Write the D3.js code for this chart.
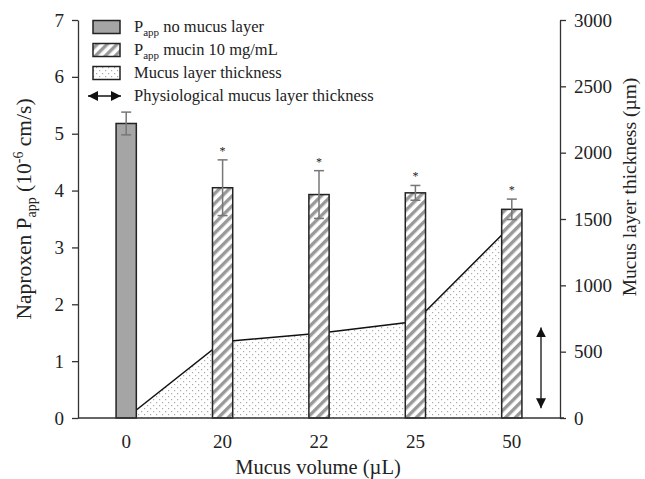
<!DOCTYPE html>
<meta charset="utf-8">
<html>
<script src="https://d3js.org/d3.v7.min.js"></script>
<style>
  body { margin: 0; background: #fff; }
  text { font-family: "Liberation Serif", "Times New Roman", serif; fill: #222; }
</style>
<div id="chart"></div>
<script>

// data
var volumes = ["0", "20", "22", "25", "50"];
var pappMean = [5.18, 4.05, 3.93, 3.96, 3.67];
var pappErr = [0.20, 0.49, 0.42, 0.13, 0.18];
var barType = ["none", "mucin", "mucin", "mucin", "mucin"];
var signif = [false, true, true, true, true];
var thickness = [0, 575, 638, 728, 1455];
var physioRange = [73, 683];
var leftTicks = [0, 1, 2, 3, 4, 5, 6, 7];
var rightTicks = [0, 500, 1000, 1500, 2000, 2500, 3000];

var width = 645, height = 479;
var pLeft = 78, pRight = 560, pTop = 20, pBottom = 418;

var svg = d3.select("#chart").append("svg")
  .attr("width", width)
  .attr("height", height);

var defs = svg.append("defs");

// diagonal hatch for the mucin bars
var hatch = defs.append("pattern")
  .attr("id", "hatch")
  .attr("patternUnits", "userSpaceOnUse")
  .attr("width", 7).attr("height", 7)
  .attr("patternTransform", "rotate(45)");
hatch.append("rect").attr("width", 7).attr("height", 7).attr("fill", "#fff");
hatch.append("rect").attr("x", 0).attr("width", 3.4).attr("height", 7).attr("fill", "#999");

// dotted fill for the thickness area
var dots = defs.append("pattern")
  .attr("id", "dots")
  .attr("patternUnits", "userSpaceOnUse")
  .attr("width", 6).attr("height", 6);
dots.append("rect").attr("width", 6).attr("height", 6).attr("fill", "#fff");
dots.append("rect").attr("x", 0).attr("y", 0).attr("width", 1.2).attr("height", 1.2).attr("fill", "#aaa");
dots.append("rect").attr("x", 3).attr("y", 3).attr("width", 1.2).attr("height", 1.2).attr("fill", "#aaa");

var x = d3.scaleBand().domain(volumes).range([pLeft, pRight]);
var y = d3.scaleLinear().domain([0, 7]).range([pBottom, pTop]);
var y2 = d3.scaleLinear().domain([0, 3000]).range([pBottom, pTop]);
var cx = function(c) { return x(c) + x.bandwidth() / 2; };
var bw = x.bandwidth() * 0.21;

// mucus layer thickness area (secondary axis)
var pts = volumes.map(function(v, i) { return [v, thickness[i]]; });
svg.append("path")
  .datum(pts)
  .attr("fill", "url(#dots)")
  .attr("d", d3.area().x(function(d) { return cx(d[0]); }).y0(y2(0)).y1(function(d) { return y2(d[1]); }));
svg.append("path")
  .datum(pts)
  .attr("fill", "none")
  .attr("stroke", "#111")
  .attr("stroke-width", 1.5)
  .attr("d", d3.line().x(function(d) { return cx(d[0]); }).y(function(d) { return y2(d[1]); }));

// bars
svg.selectAll("rect.bar")
  .data(volumes)
  .enter().append("rect")
  .attr("class", "bar")
  .attr("x", function(d) { return cx(d) - bw / 2; })
  .attr("y", function(d, i) { return y(pappMean[i]); })
  .attr("width", bw)
  .attr("height", function(d, i) { return y(0) - y(pappMean[i]); })
  .attr("fill", function(d, i) { return barType[i] == "none" ? "#a5a5a5" : "url(#hatch)"; })
  .attr("stroke", "#222")
  .attr("stroke-width", 1.5);

// error bars
var eb = svg.selectAll("g.err")
  .data(volumes)
  .enter().append("g")
  .attr("class", "err")
  .attr("stroke", "#777")
  .attr("stroke-width", 1.5);
eb.append("line")
  .attr("x1", cx).attr("x2", cx)
  .attr("y1", function(d, i) { return y(pappMean[i] + pappErr[i]); })
  .attr("y2", function(d, i) { return y(pappMean[i] - pappErr[i]); });
eb.append("line")
  .attr("x1", function(d) { return cx(d) - 5; }).attr("x2", function(d) { return cx(d) + 5; })
  .attr("y1", function(d, i) { return y(pappMean[i] + pappErr[i]); })
  .attr("y2", function(d, i) { return y(pappMean[i] + pappErr[i]); });
eb.append("line")
  .attr("x1", function(d) { return cx(d) - 5; }).attr("x2", function(d) { return cx(d) + 5; })
  .attr("y1", function(d, i) { return y(pappMean[i] - pappErr[i]); })
  .attr("y2", function(d, i) { return y(pappMean[i] - pappErr[i]); });

// asterisks
svg.selectAll("text.star")
  .data(volumes.filter(function(d, i) { return signif[i]; }))
  .enter().append("text")
  .attr("class", "star")
  .attr("x", cx)
  .attr("y", function(d) { var i = volumes.indexOf(d); return y(pappMean[i] + pappErr[i]) - 5; })
  .attr("text-anchor", "middle")
  .style("font-size", "12px")
  .text("*");

// physiological thickness arrow
var ax = 541;
defs.append("marker")
  .attr("id", "tri")
  .attr("viewBox", "0 0 10 10")
  .attr("refX", 10).attr("refY", 5)
  .attr("markerWidth", 10).attr("markerHeight", 10)
  .attr("markerUnits", "userSpaceOnUse")
  .attr("orient", "auto-start-reverse")
  .append("path").attr("d", "M0,0 L10,5 L0,10 Z").attr("fill", "#111");
svg.append("line")
  .attr("x1", ax).attr("x2", ax)
  .attr("y1", y2(physioRange[1])).attr("y2", y2(physioRange[0]))
  .attr("stroke", "#111").attr("stroke-width", 1.3)
  .attr("marker-start", "url(#tri)")
  .attr("marker-end", "url(#tri)");

// axes
var gl = svg.append("g")
  .attr("transform", "translate(" + pLeft + ",0)")
  .call(d3.axisLeft(y).tickValues(leftTicks).tickFormat(d3.format("d")).tickSize(6).tickSizeOuter(0).tickPadding(8));
var gr = svg.append("g")
  .attr("transform", "translate(" + pRight + ",0)")
  .call(d3.axisRight(y2).tickValues(rightTicks).tickFormat(d3.format("d")).tickSize(6).tickSizeOuter(0).tickPadding(8));
[gl, gr].forEach(function(g) {
  g.select(".domain").attr("stroke", "#333").attr("stroke-width", 1.3);
  g.selectAll(".tick line").attr("stroke", "#333").attr("stroke-width", 1.3);
  g.selectAll(".tick text").style("font-size", "19px").style("font-family", "Liberation Serif").attr("fill", "#222");
});
svg.append("line")
  .attr("x1", pLeft).attr("x2", pRight + 4)
  .attr("y1", pBottom).attr("y2", pBottom)
  .attr("stroke", "#333").attr("stroke-width", 1.5);

svg.selectAll("text.xlab")
  .data(volumes)
  .enter().append("text")
  .attr("class", "xlab")
  .attr("x", cx)
  .attr("y", 448)
  .attr("text-anchor", "middle")
  .style("font-size", "19px")
  .text(function(d) { return d; });

// axis titles
svg.append("text")
  .attr("x", 318).attr("y", 474)
  .attr("text-anchor", "middle")
  .style("font-size", "20.5px")
  .text("Mucus volume (\u00b5L)");

var lt = svg.append("text")
  .attr("transform", "translate(31,209) rotate(-90)")
  .attr("text-anchor", "middle")
  .style("font-size", "21.5px");
lt.append("tspan").text("Naproxen P");
lt.append("tspan").attr("dy", 5).style("font-size", "14px").text("app");
lt.append("tspan").attr("dy", -5).text(" (10");
lt.append("tspan").attr("dy", -8).style("font-size", "14px").text("-6");
lt.append("tspan").attr("dy", 8).text(" cm/s)");

svg.append("text")
  .attr("transform", "translate(636,187) rotate(-90)")
  .attr("text-anchor", "middle")
  .style("font-size", "19.5px")
  .text("Mucus layer thickness (\u00b5m)");

// legend
var legendItems = ["none", "mucin", "thickness", "physio"];
var leg = svg.selectAll("g.legend")
  .data(legendItems)
  .enter().append("g")
  .attr("class", "legend")
  .attr("transform", function(d, i) { return "translate(0," + (27 + i * 23) + ")"; });

leg.filter(function(d) { return d != "physio"; })
  .append("rect")
  .attr("x", 93).attr("y", -6.5)
  .attr("width", 27).attr("height", 13)
  .attr("fill", function(d) { return d == "none" ? "#a5a5a5" : d == "mucin" ? "url(#hatch)" : "url(#dots)"; })
  .attr("stroke", "#222").attr("stroke-width", 1.5);
leg.filter(function(d) { return d == "physio"; })
  .append("line")
  .attr("x1", 88).attr("x2", 121)
  .attr("y1", 0).attr("y2", 0)
  .attr("stroke", "#111").attr("stroke-width", 1.3)
  .attr("marker-start", "url(#tri)")
  .attr("marker-end", "url(#tri)");

leg.each(function(d) {
  var t = d3.select(this).append("text")
    .attr("x", 134).attr("y", 5)
    .style("font-size", "16.5px");
  if (d == "none" || d == "mucin") {
    t.append("tspan").text("P");
    t.append("tspan").attr("dy", 4).style("font-size", "11px").text("app");
    t.append("tspan").attr("dy", -4).text(d == "none" ? " no mucus layer" : " mucin 10 mg/mL");
  } else if (d == "thickness") {
    t.text("Mucus layer thickness");
  } else {
    t.text("Physiological mucus layer thickness");
  }
});
</script>
</html>
